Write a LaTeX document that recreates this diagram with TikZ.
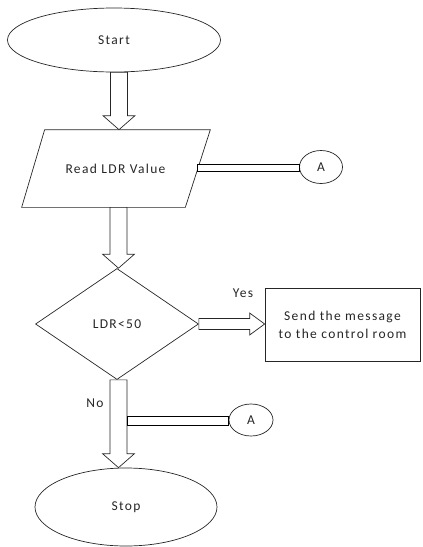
\documentclass[tikz,border=0pt]{standalone}
\usepackage{fontspec}
\setmainfont{Carlito}[LetterSpace=10]
\usepackage{tikz}
\usetikzlibrary{shapes.geometric,calc}

\newcommand{\blockdown}[3]{%
  \draw[blk] let \p1=(#2), \p2=(#3) in
    (#1pt-8.5pt,\y1) -- (#1pt-8.5pt,\y2+14pt) -- (#1pt-16pt,\y2+14pt) -- (#1pt,\y2)
    -- (#1pt+16pt,\y2+14pt) -- (#1pt+8.5pt,\y2+14pt) -- (#1pt+8.5pt,\y1) -- cycle;}

\begin{document}
\begin{tikzpicture}[x=1pt,y=-1pt,line width=0.7pt,draw=black!85,
  every node/.style={font=\fontsize{13.5}{18}\selectfont,text=black!85},
  term/.style={ellipse,draw,inner sep=0},
  conn/.style={ellipse,draw,inner sep=0,minimum width=43,minimum height=33},
  blk/.style={draw,fill=white},
  bar/.style={draw=black,fill=white,line width=1pt}]
\useasboundingbox (0,0) rectangle (423,547);

\node (start) at (114,40) [term,minimum width=213,minimum height=64] {Start};
\node (read) at (115.5,168.5) [minimum width=164,minimum height=77,inner sep=0] {Read LDR Value};
\draw ($(read.north west)+(11.5,0)$) -- ($(read.north east)+(12.5,0)$)
  -- ($(read.south east)+(-12.5,0)$) -- ($(read.south west)+(-11.5,0)$) -- cycle;
\node (conA1) at (321,167) [conn] {A};
\node (dec) at (117,324) [diamond,draw,minimum width=163,minimum height=111,inner sep=0] {LDR<50};
\node (send) at (342.5,324.5) [draw,minimum width=155,minimum height=73,align=center] {Send the message\\to the control room};
\node (conA2) at (251,420) [conn,minimum width=44,minimum height=32] {A};
\node (stop) at (126,507) [term,minimum width=182,minimum height=78] {Stop};
\node (yes) at (243,293) {Yes};
\node (no) at (95,403) {No};
\coordinate (tap) at (127,421);

\blockdown{119}{start.south}{read.north}
\blockdown{118.5}{read.south}{dec.north}
\blockdown{118.5}{dec.south}{stop.north}

\draw[blk] let \p1=(dec.east), \p2=(send.west) in
  (\x1,\y1+5.5pt) -- (\x2-15pt,\y1+5.5pt) -- (\x2-15pt,\y1+11pt) -- (\x2,\y1)
  -- (\x2-15pt,\y1-11pt) -- (\x2-15pt,\y1-5.5pt) -- (\x1,\y1-5.5pt) -- cycle;

\draw[bar] ($(read.east)+(0,-4.5)$) rectangle ($(conA1.west)+(0,4.5)$);
\draw[bar] ($(tap)+(0,-5)$) rectangle ($(conA2.west)+(0,5)$);
\end{tikzpicture}
\end{document}
